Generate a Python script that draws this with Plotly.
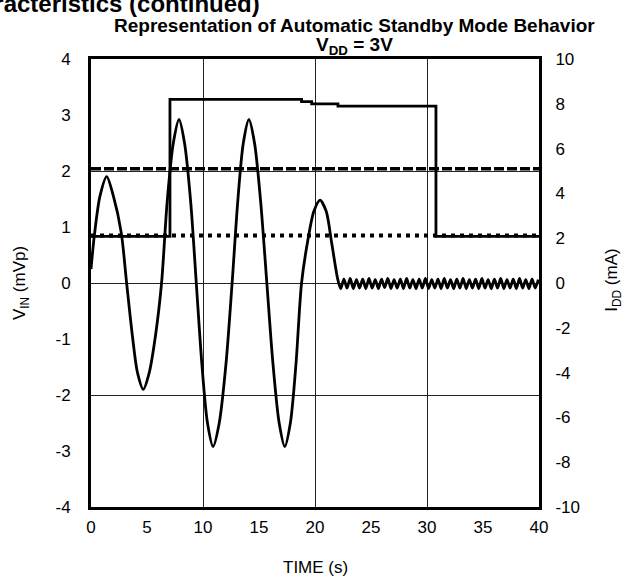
import plotly.graph_objects as go

# Input signal V_IN (mVp) versus time (s)
vin_t = [0.0, 0.3, 0.8, 1.4, 2.0, 2.7, 3.18, 3.7, 4.15, 4.67, 5.2, 5.75, 6.3,
         6.8, 7.35, 7.86, 8.35, 8.9, 9.4, 9.9, 10.4, 10.9, 11.45, 12.05, 12.6,
         13.1, 13.6, 14.1, 14.6, 15.15, 15.7, 16.25, 16.8, 17.3, 17.8, 18.3, 18.8,
         19.35, 19.9, 20.45, 21.0, 21.5, 22.05,
         22.30, 22.58, 22.86, 23.14, 23.42, 23.70, 23.98, 24.26, 24.54, 24.82,
         25.10, 25.38, 25.66, 25.94, 26.22, 26.50, 26.78, 27.06, 27.34, 27.62,
         27.90, 28.18, 28.46, 28.74, 29.02, 29.30, 29.58, 29.86, 30.14, 30.42,
         30.70, 30.98, 31.26, 31.54, 31.82, 32.10, 32.38, 32.66, 32.94, 33.22,
         33.50, 33.78, 34.06, 34.34, 34.62, 34.90, 35.18, 35.46, 35.74, 36.02,
         36.30, 36.58, 36.86, 37.14, 37.42, 37.70, 37.98, 38.26, 38.54, 38.82,
         39.10, 39.38, 39.66, 39.94]
vin_mv = [0.25, 0.85, 1.55, 1.90, 1.55, 0.90, 0.0, -0.95, -1.60, -1.90, -1.60, -0.95, 0.0,
          1.45, 2.50, 2.92, 2.50, 1.45, 0.0, -1.45, -2.50, -2.92, -2.50, -1.45, 0.0,
          1.45, 2.50, 2.92, 2.50, 1.45, 0.0, -1.45, -2.50, -2.92, -2.50, -1.45, 0.0,
          0.75, 1.28, 1.48, 1.28, 0.70, 0.05,
          -0.10, 0.07, -0.09, 0.08, -0.10, 0.06, -0.09, 0.07, -0.10, 0.08,
          -0.09, 0.06, -0.10, 0.07, -0.08, 0.08, -0.10, 0.06, -0.09, 0.07,
          -0.10, 0.08, -0.09, 0.06, -0.10, 0.07, -0.09, 0.08, -0.10, 0.06,
          -0.09, 0.07, -0.10, 0.08, -0.09, 0.06, -0.10, 0.07, -0.09, 0.08,
          -0.10, 0.06, -0.09, 0.07, -0.10, 0.08, -0.09, 0.06, -0.10, 0.07,
          -0.09, 0.08, -0.10, 0.06, -0.09, 0.07, -0.10, 0.08, -0.09, 0.06,
          -0.10, 0.07, -0.09, 0.06]

# Supply current I_DD (mA), held between samples
idd_t = [0.0, 7.05, 18.8, 19.7, 22.05, 30.8, 40.0]
idd_ma = [2.08, 8.2, 8.1, 8.0, 7.9, 2.08, 2.08]

# Reference levels (mA)
ref_t = [0.0, 40.0]
active_level_ma = [5.1, 5.1]
standby_level_ma = [2.12, 2.12]

x_ticks = [0, 5, 10, 15, 20, 25, 30, 35, 40]
left_ticks = [-4, -3, -2, -1, 0, 1, 2, 3, 4]
right_ticks = [-10, -8, -6, -4, -2, 0, 2, 4, 6, 8, 10]

FONT = "Liberation Sans, Arial, sans-serif"
INK = "black"

fig = go.Figure()

# empty trace so the overlay grid axes get drawn
fig.add_trace(go.Scatter(x=[], y=[], xaxis="x2", yaxis="y3", showlegend=False,
                         hoverinfo="skip"))

fig.add_trace(go.Scatter(x=ref_t, y=active_level_ma, yaxis="y2", mode="lines",
                         line=dict(color=INK, width=3.5, dash="10px,3px"),
                         showlegend=False))
fig.add_trace(go.Scatter(x=idd_t, y=idd_ma, yaxis="y2", mode="lines",
                         line=dict(color=INK, width=2.8, shape="hv"),
                         showlegend=False))
fig.add_trace(go.Scatter(x=ref_t, y=standby_level_ma, yaxis="y2", mode="lines",
                         line=dict(color=INK, width=4, dash="4px,5px"),
                         showlegend=False))
fig.add_trace(go.Scatter(x=vin_t, y=vin_mv, mode="lines",
                         line=dict(color=INK, width=2.8, shape="spline", smoothing=0.8),
                         showlegend=False))

tickfont = dict(family=FONT, size=17, color=INK)


def labels(vals):
    # plain hyphen for negatives
    return [str(v) for v in vals]


fig.update_layout(
    width=629, height=586,
    margin=dict(l=91, r=90, t=59, b=79),
    paper_bgcolor="white", plot_bgcolor="white",
    font=dict(family=FONT, color=INK),
    xaxis=dict(range=[0, 40], tickvals=x_ticks, ticktext=labels(x_ticks),
               showgrid=False, zeroline=False,
               showline=True, linewidth=3, linecolor=INK, mirror=True,
               ticks="outside", ticklen=3, tickcolor="rgba(0,0,0,0)",
               tickfont=tickfont),
    xaxis2=dict(range=[0, 40], overlaying="x", dtick=10, showgrid=True,
                gridcolor="#222", gridwidth=1, zeroline=False,
                showticklabels=False, ticks=""),
    yaxis=dict(range=[-4, 4], tickvals=left_ticks, ticktext=labels(left_ticks),
               showgrid=False, zeroline=False,
               showline=True, linewidth=3, linecolor=INK, mirror=True,
               ticks="outside", ticklen=14, tickcolor="rgba(0,0,0,0)",
               tickfont=tickfont),
    yaxis2=dict(range=[-10, 10], tickvals=right_ticks, ticktext=labels(right_ticks),
                overlaying="y", side="right",
                showgrid=False, zeroline=False, showline=False,
                ticks="outside", ticklen=12, tickcolor="rgba(0,0,0,0)",
                tickfont=tickfont),
    yaxis3=dict(range=[-4, 4], overlaying="y", dtick=2, showgrid=True,
                gridcolor="#222", gridwidth=1, zeroline=False,
                showticklabels=False, ticks=""),
)

annotations = [
    dict(text="<b>Typical Performance Characteristics (continued)</b>", x=0.382,
         y=1.124, xanchor="right", yanchor="middle", font=dict(size=24)),
    dict(text="<b>Representation of Automatic Standby Mode Behavior</b>", x=0.589,
         y=1.074, xanchor="center", yanchor="middle", font=dict(size=19)),
    dict(text="<b>V<sub>DD</sub> = 3V</b>", x=0.589, y=1.030, xanchor="center",
         yanchor="middle", font=dict(size=19)),
    dict(text="TIME (s)", x=0.5, y=-0.134, xanchor="center", yanchor="middle",
         font=dict(size=17)),
    dict(text="V<sub>IN</sub> (mVp)", x=-0.156, y=0.5, textangle=-90,
         xanchor="center", yanchor="middle", font=dict(size=17)),
    dict(text="I<sub>DD</sub> (mA)", x=1.165, y=0.507, textangle=-90,
         xanchor="center", yanchor="middle", font=dict(size=17)),
]
for a in annotations:
    a.update(xref="paper", yref="paper", showarrow=False)
    a["font"].setdefault("family", FONT)
    a["font"].setdefault("color", INK)
fig.update_layout(annotations=annotations)

fig.write_html("out.html")
